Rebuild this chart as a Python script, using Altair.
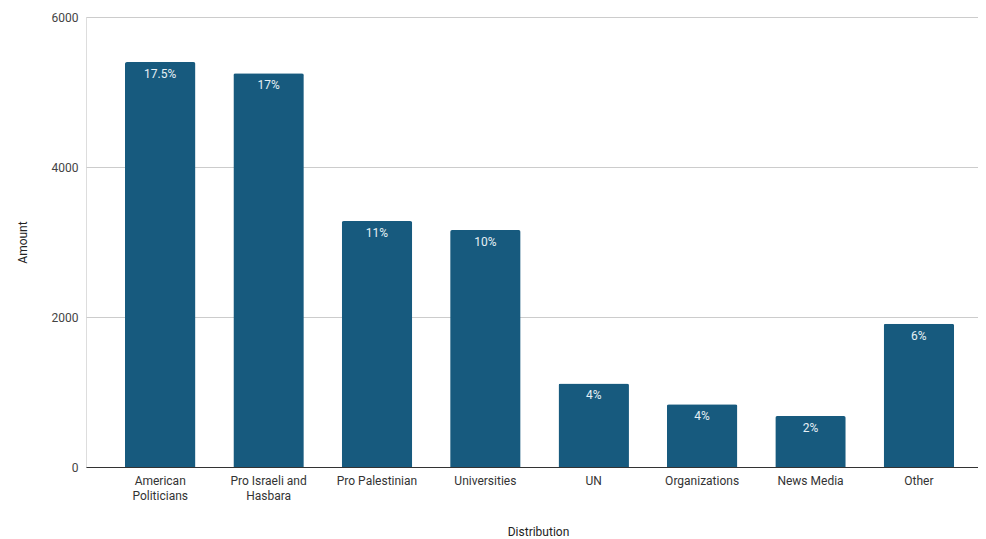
import altair as alt
import pandas as pd

categories = ["American|Politicians", "Pro Israeli and|Hasbara", "Pro Palestinian",
              "Universities", "UN", "Organizations", "News Media", "Other"]
amounts = [5400, 5250, 3280, 3160, 1115, 836, 680, 1910]
pct_labels = ["17.5%", "17%", "11%", "10%", "4%", "4%", "2%", "6%"]
y_ticks = [0, 2000, 4000, 6000]

df = pd.DataFrame({"cat": categories, "amount": amounts, "pct": pct_labels})

FONT = "Roboto"
BAR = "#175a7e"

x = alt.X("cat:N", sort=categories, title="Distribution",
          scale=alt.Scale(paddingInner=0.35, paddingOuter=0.29, align=0.62),
          axis=alt.Axis(labelAngle=0, labelExpr="split(datum.label, '|')",
                        labelFontSize=12, labelColor="#333333", labelFont=FONT,
                        labelPadding=8, labelLineHeight=15, ticks=False,
                        domain=True, domainColor="#333333", domainWidth=1,
                        titleFont=FONT, titleFontSize=12, titleFontWeight="normal",
                        titleColor="#222222", titlePadding=25, titleX=452))
y = alt.Y("amount:Q", title="Amount",
          scale=alt.Scale(domain=[0, 6000], nice=False),
          axis=alt.Axis(values=y_ticks, format="d", ticks=False, domain=False,
                        labelFontSize=12, labelColor="#444444", labelFont=FONT,
                        labelPadding=8, gridColor="#cccccc", gridWidth=1,
                        titleFont=FONT, titleFontSize=12, titleFontWeight="normal",
                        titleColor="#222222", titlePadding=22))

bars = alt.Chart(df).mark_bar(color=BAR, cornerRadiusTopLeft=2,
                              cornerRadiusTopRight=2).encode(x=x, y=y)
labels = alt.Chart(df).mark_text(baseline="top", dy=7, fontSize=12, font=FONT,
                                 color="#e6f0f5").encode(
    x=alt.X("cat:N", sort=categories), y="amount:Q", text="pct:N")

chart = (bars + labels).properties(
    width=892, height=450,
    autosize=alt.AutoSizeParams(type="none"),
    padding={"left": 78, "top": 9, "right": 0, "bottom": 71},
).configure_view(stroke=None).configure(background="white")

chart.save("out.html", embed_options={"renderer": "svg", "actions": False})
